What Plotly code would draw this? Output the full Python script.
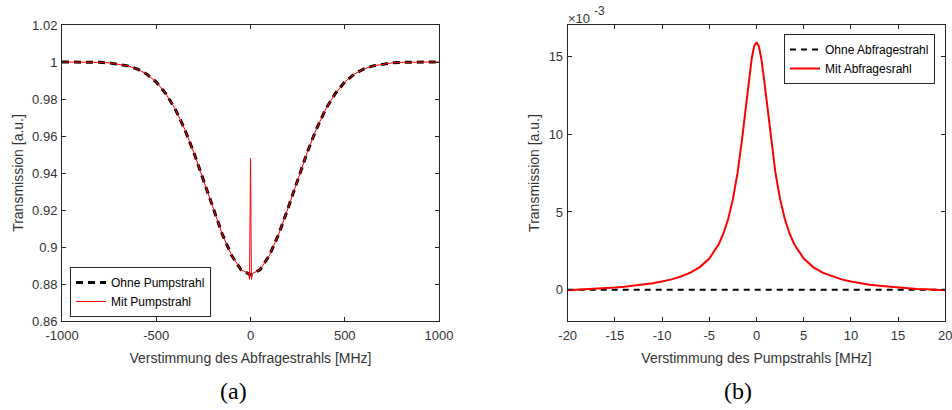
import plotly.graph_objects as go

# ---------------- Data (a) ----------------
a_x = [-1000, -950, -900, -850, -800, -750, -700, -650, -600, -550, -500, -450, -400,
       -350, -300, -250, -200, -150, -100, -50, 0, 50, 100, 150, 200, 250, 300, 350,
       400, 450, 500, 550, 600, 650, 700, 750, 800, 850, 900, 950, 1000]
a_ohne = [1.0, 1.0, 1.0, 1.0, 0.9998, 0.9995, 0.9989, 0.9979, 0.9962, 0.9934, 0.9892,
          0.9830, 0.9747, 0.9639, 0.9509, 0.9363, 0.9212, 0.9070, 0.8954, 0.8877, 0.8850,
          0.8877, 0.8954, 0.9070, 0.9212, 0.9363, 0.9509, 0.9639, 0.9747, 0.9830, 0.9892,
          0.9934, 0.9962, 0.9979, 0.9989, 0.9995, 0.9998, 1.0, 1.0, 1.0, 1.0]
a_mit_x = [-1000, -950, -900, -850, -800, -750, -700, -650, -600, -550, -500, -450, -400,
           -350, -300, -250, -200, -150, -100, -50, -10, -5, 0, 5, 10, 50, 100, 150, 200,
           250, 300, 350, 400, 450, 500, 550, 600, 650, 700, 750, 800, 850, 900, 950, 1000]
a_mit = [1.0, 1.0, 1.0, 1.0, 0.9998, 0.9995, 0.9989, 0.9979, 0.9962, 0.9934, 0.9892,
         0.9830, 0.9747, 0.9639, 0.9509, 0.9363, 0.9212, 0.9070, 0.8954, 0.8877, 0.8857,
         0.8825, 0.9480, 0.8825, 0.8857, 0.8877, 0.8954, 0.9070, 0.9212, 0.9363, 0.9509,
         0.9639, 0.9747, 0.9830, 0.9892, 0.9934, 0.9962, 0.9979, 0.9989, 0.9995, 0.9998,
         1.0, 1.0, 1.0, 1.0]
a_xticks = [-1000, -500, 0, 500, 1000]
a_xticktext = ["-1000", "-500", "0", "500", "1000"]
a_yticks = [0.86, 0.88, 0.9, 0.92, 0.94, 0.96, 0.98, 1.0, 1.02]
a_yticktext = ["0.86", "0.88", "0.9", "0.92", "0.94", "0.96", "0.98", "1", "1.02"]

# ---------------- Data (b) (values in units of 1e-3) ----------------
b_x = [-20, -19, -18, -17, -16, -15, -14, -13, -12, -11, -10, -9, -8, -7, -6, -5, -4,
       -3.5, -3, -2.5, -2, -1.75, -1.5, -1.25, -1, -0.75, -0.5, -0.25, 0, 0.25, 0.5,
       0.75, 1, 1.25, 1.5, 1.75, 2, 2.5, 3, 3.5,
       4, 5, 6, 7, 8, 9, 10, 11, 12, 13, 14, 15, 16, 17, 18, 19, 20]
b_mit = [-0.03, 0.0, 0.03, 0.06, 0.10, 0.15, 0.20, 0.26, 0.33, 0.42, 0.53, 0.67, 0.86,
         1.10, 1.46, 2.01, 2.93, 3.62, 4.55, 5.82, 7.54, 8.60, 9.80, 11.10, 12.45, 13.76,
         14.87, 15.63, 15.9, 15.63, 14.87, 13.76, 12.45, 11.10, 9.80, 8.60, 7.54, 5.82,
         4.55, 3.62, 2.93, 2.01, 1.46, 1.10, 0.86, 0.67,
         0.53, 0.42, 0.33, 0.26, 0.20, 0.15, 0.10, 0.06, 0.03, 0.0, -0.03]
b_ohne_x = [-20, 20]
b_ohne = [0.0, 0.0]
b_xticks = [-20, -15, -10, -5, 0, 5, 10, 15, 20]
b_xticktext = ["-20", "-15", "-10", "-5", "0", "5", "10", "15", "20"]
b_yticks = [0, 5, 10, 15]

W, H = 952, 410
FONT = "Liberation Sans, Arial, Helvetica, sans-serif"
SERIF = "Liberation Serif, DejaVu Serif, serif"
AX = "#262626"
TXT = "#333333"

fig = go.Figure()
fig.add_trace(go.Scatter(x=a_x, y=a_ohne, mode="lines", name="Ohne Pumpstrahl",
                         line=dict(color="black", width=3, dash="7px,5px"),
                         xaxis="x", yaxis="y", legend="legend"))
fig.add_trace(go.Scatter(x=a_mit_x, y=a_mit, mode="lines", name="Mit Pumpstrahl",
                         line=dict(color="#ff0000", width=1),
                         xaxis="x", yaxis="y", legend="legend"))
fig.add_trace(go.Scatter(x=b_ohne_x, y=b_ohne, mode="lines", name="Ohne Abfragestrahl",
                         line=dict(color="black", width=2, dash="6px,5px"),
                         xaxis="x2", yaxis="y2", legend="legend2"))
fig.add_trace(go.Scatter(x=b_x, y=b_mit, mode="lines", name="Mit Abfragesrahl",
                         line=dict(color="#ff0000", width=2),
                         xaxis="x2", yaxis="y2", legend="legend2"))

def px_x(p):
    return p / W

def px_y(p):
    return 1 - p / H

common = dict(showline=True, linecolor=AX, linewidth=1, mirror="ticks", ticks="inside",
              ticklen=4, tickcolor=AX, showgrid=False, zeroline=False, automargin=False,
              ticklabeloverflow="allow",
              tickfont=dict(family=FONT, size=13, color=TXT))
title_font = dict(family=FONT, size=14, color=TXT)

fig.update_layout(
    template="none",
    width=W, height=H, margin=dict(l=0, r=0, t=0, b=0, autoexpand=False),
    paper_bgcolor="white", plot_bgcolor="white",
    font=dict(family=FONT, size=13, color=TXT),
    xaxis=dict(domain=[px_x(62), px_x(439)], range=[-1000, 1000], tickvals=a_xticks,
               ticktext=a_xticktext, anchor="y", ticklabelstandoff=2,
               title=dict(text="Verstimmung des Abfragestrahls [MHz]", font=title_font,
                          standoff=11),
               **common),
    yaxis=dict(domain=[px_y(321), px_y(25)], range=[0.86, 1.02], tickvals=a_yticks,
               ticktext=a_yticktext, anchor="x", ticklabelstandoff=1,
               title=dict(text="Transmission [a.u.]", font=title_font, standoff=5),
               **common),
    xaxis2=dict(domain=[px_x(567.7), px_x(945.3)], range=[-20, 20], tickvals=b_xticks,
                ticktext=b_xticktext, anchor="y2", ticklabelstandoff=2,
                title=dict(text="Verstimmung des Pumpstrahls [MHz]", font=title_font,
                           standoff=11),
                **common),
    yaxis2=dict(domain=[px_y(321), px_y(25)], range=[-2, 17], tickvals=b_yticks,
                anchor="x2", ticklabelstandoff=1,
                title=dict(text="Transmission [a.u.]", font=title_font, standoff=5),
                **common),
    legend=dict(x=px_x(70), y=px_y(267), xanchor="left", yanchor="top",
                bgcolor="white", bordercolor=AX, borderwidth=1,
                font=dict(family=FONT, size=12, color="black"), tracegroupgap=0),
    legend2=dict(x=px_x(784), y=px_y(34), xanchor="left", yanchor="top",
                 bgcolor="white", bordercolor=AX, borderwidth=1,
                 font=dict(family=FONT, size=12, color="black"), tracegroupgap=0),
    showlegend=True,
)

fig.add_annotation(xref="paper", yref="paper", x=px_x(566), y=px_y(18),
                   xanchor="left", yanchor="middle", showarrow=False,
                   text="×10", font=dict(family=FONT, size=13, color=TXT))
fig.add_annotation(xref="paper", yref="paper", x=px_x(592), y=px_y(11),
                   xanchor="left", yanchor="middle", showarrow=False,
                   text="-3", font=dict(family=FONT, size=12, color=TXT))
fig.add_annotation(xref="paper", yref="paper", x=px_x(233), y=px_y(391),
                   xanchor="center", yanchor="middle", showarrow=False,
                   text="(a)", font=dict(family=SERIF, size=24, color="black"))
fig.add_annotation(xref="paper", yref="paper", x=px_x(738), y=px_y(391),
                   xanchor="center", yanchor="middle", showarrow=False,
                   text="(b)", font=dict(family=SERIF, size=24, color="black"))

fig.write_html("out.html")
